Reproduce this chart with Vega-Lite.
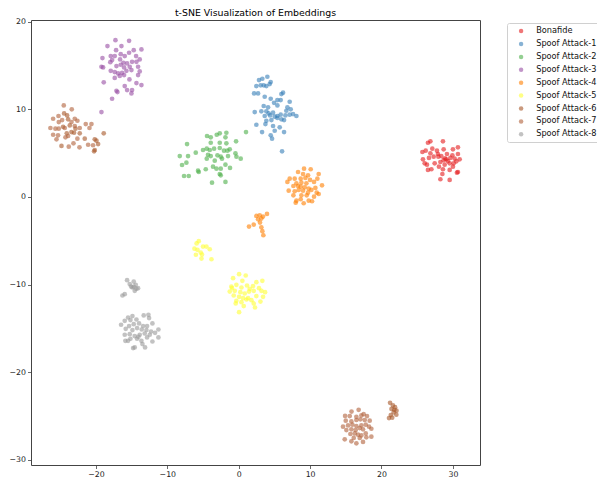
{
  "$schema": "https://vega.github.io/schema/vega-lite/v6.json",
  "width": 449,
  "height": 445,
  "autosize": {"type": "none"},
  "padding": {"left": 31, "top": 20, "right": 117, "bottom": 19},
  "title": {"text": "t-SNE Visualization of Embeddings", "fontSize": 9.4, "font": "DejaVu Sans", "fontWeight": "normal", "color": "#000000", "offset": 2, "dy": 3, "anchor": "middle"},
  "config": {
    "view": {"stroke": "#444444", "strokeWidth": 1},
    "font": "DejaVu Sans",
    "axis": {"grid": false, "domain": false, "tickColor": "#444444", "tickSize": 3.5, "tickWidth": 0.8, "labelFont": "DejaVu Sans", "labelFontSize": 7.8, "labelColor": "#222222", "labelPadding": 2, "title": null}
  },
  "datasets": {
    "pts": [
      {"x":26.51,"y":6.19,"label":"Bonafide"},{"x":26.85,"y":6.35,"label":"Bonafide"},{"x":28.61,"y":6.35,"label":"Bonafide"},{"x":25.73,"y":5.13,"label":"Bonafide"},{"x":26.19,"y":5.28,"label":"Bonafide"},{"x":27.12,"y":5.51,"label":"Bonafide"},{"x":27.77,"y":5.28,"label":"Bonafide"},{"x":28.71,"y":5.44,"label":"Bonafide"},{"x":30.01,"y":5.44,"label":"Bonafide"},{"x":30.71,"y":5.66,"label":"Bonafide"},{"x":27.91,"y":4.9,"label":"Bonafide"},{"x":28.38,"y":4.67,"label":"Bonafide"},{"x":29.17,"y":4.9,"label":"Bonafide"},{"x":29.93,"y":4.75,"label":"Bonafide"},{"x":30.71,"y":4.9,"label":"Bonafide"},{"x":25.81,"y":4.3,"label":"Bonafide"},{"x":26.65,"y":4.45,"label":"Bonafide"},{"x":27.31,"y":4.6,"label":"Bonafide"},{"x":27.97,"y":4.6,"label":"Bonafide"},{"x":29.09,"y":4.3,"label":"Bonafide"},{"x":29.65,"y":4.45,"label":"Bonafide"},{"x":30.25,"y":4.37,"label":"Bonafide"},{"x":30.95,"y":4.3,"label":"Bonafide"},{"x":26.05,"y":3.84,"label":"Bonafide"},{"x":26.37,"y":3.68,"label":"Bonafide"},{"x":27.45,"y":3.84,"label":"Bonafide"},{"x":28.25,"y":3.99,"label":"Bonafide"},{"x":28.85,"y":3.68,"label":"Bonafide"},{"x":29.55,"y":3.84,"label":"Bonafide"},{"x":30.11,"y":3.84,"label":"Bonafide"},{"x":30.49,"y":4.07,"label":"Bonafide"},{"x":26.51,"y":3.08,"label":"Bonafide"},{"x":26.99,"y":3.16,"label":"Bonafide"},{"x":28.05,"y":3.46,"label":"Bonafide"},{"x":28.61,"y":3.16,"label":"Bonafide"},{"x":29.55,"y":3.08,"label":"Bonafide"},{"x":30.71,"y":2.85,"label":"Bonafide"},{"x":28.53,"y":2.62,"label":"Bonafide"},{"x":28.25,"y":2.02,"label":"Bonafide"},{"x":29.55,"y":1.94,"label":"Bonafide"},{"x":26.85,"y":4.98,"label":"Bonafide"},{"x":30.01,"y":3.46,"label":"Bonafide"},{"x":30.57,"y":2.77,"label":"Bonafide"},{"x":28.7,"y":4.2,"label":"Bonafide"},{"x":29.3,"y":4.1,"label":"Bonafide"},{"x":28.9,"y":4.4,"label":"Bonafide"},

      {"x":2.84,"y":13.34,"label":"Spoof Attack-1"},{"x":3.31,"y":13.49,"label":"Spoof Attack-1"},{"x":4.01,"y":13.72,"label":"Spoof Attack-1"},{"x":4.48,"y":13.11,"label":"Spoof Attack-1"},{"x":4.34,"y":12.88,"label":"Spoof Attack-1"},{"x":2.47,"y":12.66,"label":"Spoof Attack-1"},{"x":3.08,"y":12.74,"label":"Spoof Attack-1"},{"x":3.5,"y":12.74,"label":"Spoof Attack-1"},{"x":3.87,"y":12.66,"label":"Spoof Attack-1"},{"x":2.15,"y":11.82,"label":"Spoof Attack-1"},{"x":2.71,"y":11.82,"label":"Spoof Attack-1"},{"x":6.21,"y":11.9,"label":"Spoof Attack-1"},{"x":5.98,"y":11.74,"label":"Spoof Attack-1"},{"x":3.64,"y":11.44,"label":"Spoof Attack-1"},{"x":4.48,"y":11.21,"label":"Spoof Attack-1"},{"x":5.42,"y":11.06,"label":"Spoof Attack-1"},{"x":5.88,"y":11.06,"label":"Spoof Attack-1"},{"x":4.95,"y":10.75,"label":"Spoof Attack-1"},{"x":7.14,"y":10.87,"label":"Spoof Attack-1"},{"x":3.5,"y":10.38,"label":"Spoof Attack-1"},{"x":4.11,"y":10.23,"label":"Spoof Attack-1"},{"x":5.42,"y":10.45,"label":"Spoof Attack-1"},{"x":6.82,"y":10.23,"label":"Spoof Attack-1"},{"x":7.28,"y":10.0,"label":"Spoof Attack-1"},{"x":3.17,"y":9.77,"label":"Spoof Attack-1"},{"x":3.87,"y":9.77,"label":"Spoof Attack-1"},{"x":4.2,"y":9.54,"label":"Spoof Attack-1"},{"x":4.81,"y":9.62,"label":"Spoof Attack-1"},{"x":6.67,"y":9.84,"label":"Spoof Attack-1"},{"x":2.24,"y":9.69,"label":"Spoof Attack-1"},{"x":3.64,"y":9.24,"label":"Spoof Attack-1"},{"x":4.39,"y":9.31,"label":"Spoof Attack-1"},{"x":5.04,"y":9.16,"label":"Spoof Attack-1"},{"x":5.42,"y":9.24,"label":"Spoof Attack-1"},{"x":5.88,"y":9.39,"label":"Spoof Attack-1"},{"x":6.54,"y":9.31,"label":"Spoof Attack-1"},{"x":7.61,"y":9.46,"label":"Spoof Attack-1"},{"x":8.08,"y":9.24,"label":"Spoof Attack-1"},{"x":7.14,"y":9.39,"label":"Spoof Attack-1"},{"x":6.35,"y":8.78,"label":"Spoof Attack-1"},{"x":3.87,"y":8.7,"label":"Spoof Attack-1"},{"x":4.58,"y":8.78,"label":"Spoof Attack-1"},{"x":5.42,"y":9.01,"label":"Spoof Attack-1"},{"x":5.98,"y":8.86,"label":"Spoof Attack-1"},{"x":2.47,"y":8.24,"label":"Spoof Attack-1"},{"x":3.74,"y":8.32,"label":"Spoof Attack-1"},{"x":4.81,"y":8.1,"label":"Spoof Attack-1"},{"x":5.74,"y":7.95,"label":"Spoof Attack-1"},{"x":5.04,"y":7.56,"label":"Spoof Attack-1"},{"x":6.35,"y":7.41,"label":"Spoof Attack-1"},{"x":3.27,"y":7.41,"label":"Spoof Attack-1"},{"x":4.48,"y":7.03,"label":"Spoof Attack-1"},{"x":4.67,"y":6.65,"label":"Spoof Attack-1"},{"x":6.07,"y":5.21,"label":"Spoof Attack-1"},

      {"x":-4.44,"y":6.96,"label":"Spoof Attack-2"},{"x":-3.92,"y":6.81,"label":"Spoof Attack-2"},{"x":-3.08,"y":7.1,"label":"Spoof Attack-2"},{"x":-2.66,"y":7.26,"label":"Spoof Attack-2"},{"x":-1.73,"y":7.33,"label":"Spoof Attack-2"},{"x":1.02,"y":7.41,"label":"Spoof Attack-2"},{"x":-1.86,"y":6.81,"label":"Spoof Attack-2"},{"x":-3.92,"y":6.19,"label":"Spoof Attack-2"},{"x":-2.66,"y":6.19,"label":"Spoof Attack-2"},{"x":-1.73,"y":6.12,"label":"Spoof Attack-2"},{"x":-0.37,"y":6.35,"label":"Spoof Attack-2"},{"x":-5.0,"y":5.36,"label":"Spoof Attack-2"},{"x":-4.48,"y":5.51,"label":"Spoof Attack-2"},{"x":-4.06,"y":5.36,"label":"Spoof Attack-2"},{"x":-3.45,"y":5.51,"label":"Spoof Attack-2"},{"x":-2.66,"y":5.59,"label":"Spoof Attack-2"},{"x":-2.06,"y":5.28,"label":"Spoof Attack-2"},{"x":-1.59,"y":5.28,"label":"Spoof Attack-2"},{"x":-1.26,"y":5.44,"label":"Spoof Attack-2"},{"x":-6.02,"y":5.05,"label":"Spoof Attack-2"},{"x":-4.3,"y":4.82,"label":"Spoof Attack-2"},{"x":-3.92,"y":4.67,"label":"Spoof Attack-2"},{"x":-2.98,"y":4.75,"label":"Spoof Attack-2"},{"x":-2.52,"y":4.6,"label":"Spoof Attack-2"},{"x":-1.5,"y":4.67,"label":"Spoof Attack-2"},{"x":-0.46,"y":4.98,"label":"Spoof Attack-2"},{"x":-0.32,"y":4.6,"label":"Spoof Attack-2"},{"x":0.28,"y":4.37,"label":"Spoof Attack-2"},{"x":-4.48,"y":4.37,"label":"Spoof Attack-2"},{"x":-3.36,"y":4.14,"label":"Spoof Attack-2"},{"x":-2.34,"y":4.37,"label":"Spoof Attack-2"},{"x":-1.86,"y":3.68,"label":"Spoof Attack-2"},{"x":-5.7,"y":3.0,"label":"Spoof Attack-2"},{"x":-5.6,"y":2.85,"label":"Spoof Attack-2"},{"x":-4.62,"y":3.16,"label":"Spoof Attack-2"},{"x":-3.6,"y":3.46,"label":"Spoof Attack-2"},{"x":-3.12,"y":3.23,"label":"Spoof Attack-2"},{"x":-2.52,"y":3.23,"label":"Spoof Attack-2"},{"x":-1.22,"y":3.31,"label":"Spoof Attack-2"},{"x":-2.66,"y":2.62,"label":"Spoof Attack-2"},{"x":-2.52,"y":2.47,"label":"Spoof Attack-2"},{"x":-3.74,"y":1.63,"label":"Spoof Attack-2"},{"x":-1.86,"y":1.71,"label":"Spoof Attack-2"},{"x":-7.24,"y":6.04,"label":"Spoof Attack-2"},{"x":-8.26,"y":4.67,"label":"Spoof Attack-2"},{"x":-7.1,"y":4.67,"label":"Spoof Attack-2"},{"x":-7.94,"y":3.65,"label":"Spoof Attack-2"},{"x":-7.33,"y":3.91,"label":"Spoof Attack-2"},{"x":-7.66,"y":2.39,"label":"Spoof Attack-2"},{"x":-7.0,"y":2.39,"label":"Spoof Attack-2"},

      {"x":-17.27,"y":17.9,"label":"Spoof Attack-3"},{"x":-15.36,"y":17.82,"label":"Spoof Attack-3"},{"x":-18.39,"y":17.22,"label":"Spoof Attack-3"},{"x":-16.43,"y":17.22,"label":"Spoof Attack-3"},{"x":-17.18,"y":16.76,"label":"Spoof Attack-3"},{"x":-14.71,"y":16.76,"label":"Spoof Attack-3"},{"x":-13.63,"y":16.84,"label":"Spoof Attack-3"},{"x":-17.93,"y":16.08,"label":"Spoof Attack-3"},{"x":-17.37,"y":16.08,"label":"Spoof Attack-3"},{"x":-16.53,"y":16.3,"label":"Spoof Attack-3"},{"x":-15.97,"y":16.08,"label":"Spoof Attack-3"},{"x":-15.36,"y":16.46,"label":"Spoof Attack-3"},{"x":-14.38,"y":16.08,"label":"Spoof Attack-3"},{"x":-19.09,"y":15.85,"label":"Spoof Attack-3"},{"x":-17.99,"y":15.39,"label":"Spoof Attack-3"},{"x":-17.74,"y":15.62,"label":"Spoof Attack-3"},{"x":-16.62,"y":15.7,"label":"Spoof Attack-3"},{"x":-16.15,"y":15.32,"label":"Spoof Attack-3"},{"x":-15.64,"y":15.24,"label":"Spoof Attack-3"},{"x":-14.94,"y":15.43,"label":"Spoof Attack-3"},{"x":-13.87,"y":15.7,"label":"Spoof Attack-3"},{"x":-14.33,"y":15.43,"label":"Spoof Attack-3"},{"x":-19.23,"y":14.86,"label":"Spoof Attack-3"},{"x":-19.0,"y":14.79,"label":"Spoof Attack-3"},{"x":-17.13,"y":14.94,"label":"Spoof Attack-3"},{"x":-16.53,"y":15.09,"label":"Spoof Attack-3"},{"x":-16.06,"y":14.79,"label":"Spoof Attack-3"},{"x":-15.27,"y":14.86,"label":"Spoof Attack-3"},{"x":-14.1,"y":14.86,"label":"Spoof Attack-3"},{"x":-17.93,"y":14.4,"label":"Spoof Attack-3"},{"x":-17.37,"y":14.25,"label":"Spoof Attack-3"},{"x":-16.9,"y":14.1,"label":"Spoof Attack-3"},{"x":-16.34,"y":14.17,"label":"Spoof Attack-3"},{"x":-15.73,"y":14.4,"label":"Spoof Attack-3"},{"x":-15.03,"y":14.48,"label":"Spoof Attack-3"},{"x":-13.87,"y":14.33,"label":"Spoof Attack-3"},{"x":-17.37,"y":13.59,"label":"Spoof Attack-3"},{"x":-16.67,"y":13.82,"label":"Spoof Attack-3"},{"x":-16.06,"y":13.91,"label":"Spoof Attack-3"},{"x":-15.31,"y":13.42,"label":"Spoof Attack-3"},{"x":-14.1,"y":13.91,"label":"Spoof Attack-3"},{"x":-18.91,"y":13.08,"label":"Spoof Attack-3"},{"x":-15.97,"y":12.66,"label":"Spoof Attack-3"},{"x":-14.33,"y":13.0,"label":"Spoof Attack-3"},{"x":-13.63,"y":12.77,"label":"Spoof Attack-3"},{"x":-17.13,"y":12.12,"label":"Spoof Attack-3"},{"x":-16.99,"y":11.97,"label":"Spoof Attack-3"},{"x":-15.64,"y":12.2,"label":"Spoof Attack-3"},{"x":-14.94,"y":12.2,"label":"Spoof Attack-3"},{"x":-15.03,"y":11.82,"label":"Spoof Attack-3"},{"x":-17.74,"y":11.21,"label":"Spoof Attack-3"},{"x":-19.23,"y":9.69,"label":"Spoof Attack-3"},

      {"x":9.15,"y":3.23,"label":"Spoof Attack-4"},{"x":10.08,"y":3.16,"label":"Spoof Attack-4"},{"x":8.31,"y":2.85,"label":"Spoof Attack-4"},{"x":9.01,"y":2.62,"label":"Spoof Attack-4"},{"x":9.71,"y":2.47,"label":"Spoof Attack-4"},{"x":11.2,"y":2.62,"label":"Spoof Attack-4"},{"x":7.14,"y":2.09,"label":"Spoof Attack-4"},{"x":7.84,"y":2.09,"label":"Spoof Attack-4"},{"x":8.68,"y":2.09,"label":"Spoof Attack-4"},{"x":9.34,"y":2.17,"label":"Spoof Attack-4"},{"x":9.99,"y":1.94,"label":"Spoof Attack-4"},{"x":11.02,"y":2.09,"label":"Spoof Attack-4"},{"x":6.82,"y":1.71,"label":"Spoof Attack-4"},{"x":8.08,"y":1.56,"label":"Spoof Attack-4"},{"x":8.78,"y":1.63,"label":"Spoof Attack-4"},{"x":9.48,"y":1.56,"label":"Spoof Attack-4"},{"x":10.55,"y":1.71,"label":"Spoof Attack-4"},{"x":11.67,"y":1.33,"label":"Spoof Attack-4"},{"x":7.66,"y":1.25,"label":"Spoof Attack-4"},{"x":8.68,"y":1.17,"label":"Spoof Attack-4"},{"x":9.24,"y":1.1,"label":"Spoof Attack-4"},{"x":9.8,"y":0.95,"label":"Spoof Attack-4"},{"x":10.74,"y":1.03,"label":"Spoof Attack-4"},{"x":7.0,"y":0.72,"label":"Spoof Attack-4"},{"x":7.84,"y":0.65,"label":"Spoof Attack-4"},{"x":8.4,"y":0.8,"label":"Spoof Attack-4"},{"x":9.01,"y":0.72,"label":"Spoof Attack-4"},{"x":9.71,"y":0.49,"label":"Spoof Attack-4"},{"x":10.18,"y":0.8,"label":"Spoof Attack-4"},{"x":11.2,"y":0.34,"label":"Spoof Attack-4"},{"x":7.66,"y":0.19,"label":"Spoof Attack-4"},{"x":8.78,"y":0.19,"label":"Spoof Attack-4"},{"x":9.52,"y":0.19,"label":"Spoof Attack-4"},{"x":10.55,"y":0.03,"label":"Spoof Attack-4"},{"x":8.08,"y":-0.42,"label":"Spoof Attack-4"},{"x":8.68,"y":-0.26,"label":"Spoof Attack-4"},{"x":9.1,"y":-0.72,"label":"Spoof Attack-4"},{"x":9.8,"y":-0.42,"label":"Spoof Attack-4"},{"x":10.27,"y":-0.49,"label":"Spoof Attack-4"},{"x":7.98,"y":-0.65,"label":"Spoof Attack-4"},{"x":10.92,"y":0.49,"label":"Spoof Attack-4"},{"x":8.31,"y":1.25,"label":"Spoof Attack-4"},
      {"x":2.47,"y":-2.17,"label":"Spoof Attack-4"},{"x":2.94,"y":-2.09,"label":"Spoof Attack-4"},{"x":3.4,"y":-2.24,"label":"Spoof Attack-4"},{"x":3.96,"y":-1.94,"label":"Spoof Attack-4"},{"x":2.71,"y":-2.55,"label":"Spoof Attack-4"},{"x":3.17,"y":-2.47,"label":"Spoof Attack-4"},{"x":2.98,"y":-2.93,"label":"Spoof Attack-4"},{"x":1.44,"y":-3.38,"label":"Spoof Attack-4"},{"x":2.1,"y":-3.15,"label":"Spoof Attack-4"},{"x":3.17,"y":-3.46,"label":"Spoof Attack-4"},{"x":3.31,"y":-3.91,"label":"Spoof Attack-4"},{"x":3.45,"y":-4.37,"label":"Spoof Attack-4"},

      {"x":-5.6,"y":-5.05,"label":"Spoof Attack-5"},{"x":-5.0,"y":-5.67,"label":"Spoof Attack-5"},{"x":-4.53,"y":-5.67,"label":"Spoof Attack-5"},{"x":-4.06,"y":-5.97,"label":"Spoof Attack-5"},{"x":-5.78,"y":-6.04,"label":"Spoof Attack-5"},{"x":-5.32,"y":-6.35,"label":"Spoof Attack-5"},{"x":-5.22,"y":-7.03,"label":"Spoof Attack-5"},{"x":-3.82,"y":-7.11,"label":"Spoof Attack-5"},{"x":-5.14,"y":-6.58,"label":"Spoof Attack-5"},{"x":-6.2,"y":-5.9,"label":"Spoof Attack-5"},{"x":-6.0,"y":-6.6,"label":"Spoof Attack-5"},{"x":-5.9,"y":-5.3,"label":"Spoof Attack-5"},
      {"x":0.05,"y":-8.82,"label":"Spoof Attack-5"},{"x":0.98,"y":-8.97,"label":"Spoof Attack-5"},{"x":-0.79,"y":-9.27,"label":"Spoof Attack-5"},{"x":0.51,"y":-9.58,"label":"Spoof Attack-5"},{"x":2.47,"y":-9.73,"label":"Spoof Attack-5"},{"x":3.31,"y":-9.58,"label":"Spoof Attack-5"},{"x":-1.03,"y":-10.23,"label":"Spoof Attack-5"},{"x":-0.33,"y":-10.03,"label":"Spoof Attack-5"},{"x":0.38,"y":-10.34,"label":"Spoof Attack-5"},{"x":1.16,"y":-10.11,"label":"Spoof Attack-5"},{"x":2.0,"y":-10.18,"label":"Spoof Attack-5"},{"x":1.54,"y":-10.49,"label":"Spoof Attack-5"},{"x":2.84,"y":-10.41,"label":"Spoof Attack-5"},{"x":-1.26,"y":-10.8,"label":"Spoof Attack-5"},{"x":-0.56,"y":-10.72,"label":"Spoof Attack-5"},{"x":0.23,"y":-10.87,"label":"Spoof Attack-5"},{"x":0.84,"y":-11.02,"label":"Spoof Attack-5"},{"x":1.44,"y":-10.8,"label":"Spoof Attack-5"},{"x":2.1,"y":-10.72,"label":"Spoof Attack-5"},{"x":3.18,"y":-10.72,"label":"Spoof Attack-5"},{"x":3.69,"y":-10.87,"label":"Spoof Attack-5"},{"x":-0.7,"y":-11.25,"label":"Spoof Attack-5"},{"x":0.05,"y":-11.4,"label":"Spoof Attack-5"},{"x":0.61,"y":-11.55,"label":"Spoof Attack-5"},{"x":1.31,"y":-11.55,"label":"Spoof Attack-5"},{"x":2.47,"y":-11.32,"label":"Spoof Attack-5"},{"x":3.41,"y":-11.4,"label":"Spoof Attack-5"},{"x":-0.33,"y":-11.86,"label":"Spoof Attack-5"},{"x":0.38,"y":-12.01,"label":"Spoof Attack-5"},{"x":1.08,"y":-11.71,"label":"Spoof Attack-5"},{"x":1.78,"y":-11.78,"label":"Spoof Attack-5"},{"x":3.04,"y":-11.94,"label":"Spoof Attack-5"},{"x":-0.42,"y":-12.16,"label":"Spoof Attack-5"},{"x":0.7,"y":-12.46,"label":"Spoof Attack-5"},{"x":2.1,"y":-12.16,"label":"Spoof Attack-5"},{"x":2.28,"y":-12.62,"label":"Spoof Attack-5"},{"x":0.05,"y":-13.15,"label":"Spoof Attack-5"},{"x":-0.95,"y":-10.4,"label":"Spoof Attack-5"},

      {"x":-24.6,"y":8.01,"label":"Spoof Attack-6"},{"x":-24.04,"y":9.31,"label":"Spoof Attack-6"},{"x":-23.67,"y":8.17,"label":"Spoof Attack-6"},{"x":-23.43,"y":7.41,"label":"Spoof Attack-6"},{"x":-24.09,"y":7.26,"label":"Spoof Attack-6"},{"x":-21.57,"y":6.65,"label":"Spoof Attack-6"},{"x":-20.17,"y":6.58,"label":"Spoof Attack-6"},{"x":-19.93,"y":6.42,"label":"Spoof Attack-6"},{"x":-19.7,"y":6.04,"label":"Spoof Attack-6"},{"x":-20.17,"y":5.36,"label":"Spoof Attack-6"},{"x":-20.26,"y":5.21,"label":"Spoof Attack-6"},{"x":-18.91,"y":7.26,"label":"Spoof Attack-6"},{"x":-24.83,"y":5.82,"label":"Spoof Attack-6"},{"x":-22.27,"y":7.26,"label":"Spoof Attack-6"},{"x":-23.07,"y":7.33,"label":"Spoof Attack-6"},{"x":-24.46,"y":9.54,"label":"Spoof Attack-6"},{"x":-23.9,"y":8.86,"label":"Spoof Attack-6"},{"x":-22.87,"y":7.79,"label":"Spoof Attack-6"},
      {"x":21.2,"y":-23.5,"label":"Spoof Attack-6"},{"x":21.6,"y":-23.8,"label":"Spoof Attack-6"},{"x":21.9,"y":-24.0,"label":"Spoof Attack-6"},{"x":21.4,"y":-24.2,"label":"Spoof Attack-6"},{"x":22.1,"y":-24.4,"label":"Spoof Attack-6"},{"x":21.7,"y":-24.6,"label":"Spoof Attack-6"},{"x":21.3,"y":-24.9,"label":"Spoof Attack-6"},{"x":21.05,"y":-25.24,"label":"Spoof Attack-6"},{"x":22.08,"y":-24.86,"label":"Spoof Attack-6"},{"x":21.5,"y":-25.2,"label":"Spoof Attack-6"},{"x":21.8,"y":-24.3,"label":"Spoof Attack-6"},

      {"x":-24.51,"y":10.45,"label":"Spoof Attack-7"},{"x":-23.39,"y":10.0,"label":"Spoof Attack-7"},{"x":-26.0,"y":8.93,"label":"Spoof Attack-7"},{"x":-25.25,"y":9.24,"label":"Spoof Attack-7"},{"x":-22.97,"y":8.93,"label":"Spoof Attack-7"},{"x":-22.6,"y":8.7,"label":"Spoof Attack-7"},{"x":-24.74,"y":8.78,"label":"Spoof Attack-7"},{"x":-25.21,"y":8.55,"label":"Spoof Attack-7"},{"x":-23.43,"y":8.55,"label":"Spoof Attack-7"},{"x":-26.38,"y":7.87,"label":"Spoof Attack-7"},{"x":-25.68,"y":7.79,"label":"Spoof Attack-7"},{"x":-25.21,"y":7.79,"label":"Spoof Attack-7"},{"x":-24.37,"y":7.87,"label":"Spoof Attack-7"},{"x":-22.97,"y":8.1,"label":"Spoof Attack-7"},{"x":-22.27,"y":7.87,"label":"Spoof Attack-7"},{"x":-21.43,"y":8.32,"label":"Spoof Attack-7"},{"x":-20.63,"y":8.32,"label":"Spoof Attack-7"},{"x":-20.91,"y":7.87,"label":"Spoof Attack-7"},{"x":-26.0,"y":7.1,"label":"Spoof Attack-7"},{"x":-25.31,"y":7.03,"label":"Spoof Attack-7"},{"x":-25.53,"y":6.58,"label":"Spoof Attack-7"},{"x":-24.27,"y":6.81,"label":"Spoof Attack-7"},{"x":-23.9,"y":6.96,"label":"Spoof Attack-7"},{"x":-22.6,"y":6.65,"label":"Spoof Attack-7"},{"x":-23.81,"y":5.74,"label":"Spoof Attack-7"},{"x":-23.15,"y":6.12,"label":"Spoof Attack-7"},{"x":-22.31,"y":5.66,"label":"Spoof Attack-7"},{"x":-21.1,"y":5.96,"label":"Spoof Attack-7"},{"x":-20.41,"y":5.9,"label":"Spoof Attack-7"},
      {"x":15.55,"y":-25.01,"label":"Spoof Attack-7"},{"x":16.48,"y":-25.09,"label":"Spoof Attack-7"},{"x":17.18,"y":-24.94,"label":"Spoof Attack-7"},{"x":17.97,"y":-25.01,"label":"Spoof Attack-7"},{"x":14.99,"y":-25.54,"label":"Spoof Attack-7"},{"x":15.78,"y":-25.62,"label":"Spoof Attack-7"},{"x":16.48,"y":-25.46,"label":"Spoof Attack-7"},{"x":17.04,"y":-25.39,"label":"Spoof Attack-7"},{"x":17.65,"y":-25.46,"label":"Spoof Attack-7"},{"x":18.35,"y":-25.54,"label":"Spoof Attack-7"},{"x":14.61,"y":-26.23,"label":"Spoof Attack-7"},{"x":15.31,"y":-26.08,"label":"Spoof Attack-7"},{"x":15.92,"y":-26.0,"label":"Spoof Attack-7"},{"x":16.48,"y":-26.15,"label":"Spoof Attack-7"},{"x":17.18,"y":-26.08,"label":"Spoof Attack-7"},{"x":17.79,"y":-26.0,"label":"Spoof Attack-7"},{"x":18.25,"y":-26.23,"label":"Spoof Attack-7"},{"x":18.58,"y":-26.46,"label":"Spoof Attack-7"},{"x":15.08,"y":-26.61,"label":"Spoof Attack-7"},{"x":15.78,"y":-26.53,"label":"Spoof Attack-7"},{"x":16.39,"y":-26.61,"label":"Spoof Attack-7"},{"x":16.95,"y":-26.38,"label":"Spoof Attack-7"},{"x":17.41,"y":-26.53,"label":"Spoof Attack-7"},{"x":15.64,"y":-27.06,"label":"Spoof Attack-7"},{"x":16.25,"y":-26.99,"label":"Spoof Attack-7"},{"x":16.71,"y":-27.14,"label":"Spoof Attack-7"},{"x":17.18,"y":-27.22,"label":"Spoof Attack-7"},{"x":17.79,"y":-26.99,"label":"Spoof Attack-7"},{"x":18.58,"y":-27.37,"label":"Spoof Attack-7"},{"x":17.88,"y":-27.44,"label":"Spoof Attack-7"},{"x":14.85,"y":-27.67,"label":"Spoof Attack-7"},{"x":15.78,"y":-27.9,"label":"Spoof Attack-7"},{"x":16.48,"y":-28.13,"label":"Spoof Attack-7"},{"x":17.41,"y":-27.97,"label":"Spoof Attack-7"},{"x":16.95,"y":-27.51,"label":"Spoof Attack-7"},{"x":16.11,"y":-27.51,"label":"Spoof Attack-7"},{"x":15.8,"y":-24.5,"label":"Spoof Attack-7"},{"x":16.8,"y":-24.3,"label":"Spoof Attack-7"},{"x":17.5,"y":-24.8,"label":"Spoof Attack-7"},{"x":14.9,"y":-25.0,"label":"Spoof Attack-7"},

      {"x":-15.64,"y":-9.5,"label":"Spoof Attack-8"},{"x":-15.27,"y":-9.95,"label":"Spoof Attack-8"},{"x":-14.71,"y":-9.66,"label":"Spoof Attack-8"},{"x":-14.43,"y":-10.03,"label":"Spoof Attack-8"},{"x":-14.9,"y":-10.34,"label":"Spoof Attack-8"},{"x":-14.33,"y":-10.49,"label":"Spoof Attack-8"},{"x":-14.1,"y":-10.41,"label":"Spoof Attack-8"},{"x":-14.57,"y":-10.72,"label":"Spoof Attack-8"},{"x":-15.08,"y":-10.23,"label":"Spoof Attack-8"},{"x":-15.97,"y":-11.1,"label":"Spoof Attack-8"},{"x":-16.29,"y":-11.25,"label":"Spoof Attack-8"},{"x":-14.71,"y":-10.26,"label":"Spoof Attack-8"},
      {"x":-15.5,"y":-13.76,"label":"Spoof Attack-8"},{"x":-14.89,"y":-13.6,"label":"Spoof Attack-8"},{"x":-13.31,"y":-13.53,"label":"Spoof Attack-8"},{"x":-12.65,"y":-13.45,"label":"Spoof Attack-8"},{"x":-12.56,"y":-13.83,"label":"Spoof Attack-8"},{"x":-15.97,"y":-14.14,"label":"Spoof Attack-8"},{"x":-15.17,"y":-14.06,"label":"Spoof Attack-8"},{"x":-14.33,"y":-13.99,"label":"Spoof Attack-8"},{"x":-16.48,"y":-14.59,"label":"Spoof Attack-8"},{"x":-15.36,"y":-14.74,"label":"Spoof Attack-8"},{"x":-14.71,"y":-14.52,"label":"Spoof Attack-8"},{"x":-13.96,"y":-14.44,"label":"Spoof Attack-8"},{"x":-13.4,"y":-14.74,"label":"Spoof Attack-8"},{"x":-12.84,"y":-14.74,"label":"Spoof Attack-8"},{"x":-12.09,"y":-14.44,"label":"Spoof Attack-8"},{"x":-15.83,"y":-15.05,"label":"Spoof Attack-8"},{"x":-14.89,"y":-15.2,"label":"Spoof Attack-8"},{"x":-14.24,"y":-14.97,"label":"Spoof Attack-8"},{"x":-13.59,"y":-15.13,"label":"Spoof Attack-8"},{"x":-12.93,"y":-15.2,"label":"Spoof Attack-8"},{"x":-12.28,"y":-15.36,"label":"Spoof Attack-8"},{"x":-11.25,"y":-15.13,"label":"Spoof Attack-8"},{"x":-15.97,"y":-15.73,"label":"Spoof Attack-8"},{"x":-15.27,"y":-15.66,"label":"Spoof Attack-8"},{"x":-14.57,"y":-15.88,"label":"Spoof Attack-8"},{"x":-13.87,"y":-15.73,"label":"Spoof Attack-8"},{"x":-13.17,"y":-15.59,"label":"Spoof Attack-8"},{"x":-12.46,"y":-15.73,"label":"Spoof Attack-8"},{"x":-11.72,"y":-15.51,"label":"Spoof Attack-8"},{"x":-15.5,"y":-16.42,"label":"Spoof Attack-8"},{"x":-14.24,"y":-16.19,"label":"Spoof Attack-8"},{"x":-13.63,"y":-16.42,"label":"Spoof Attack-8"},{"x":-12.84,"y":-16.04,"label":"Spoof Attack-8"},{"x":-12.09,"y":-16.5,"label":"Spoof Attack-8"},{"x":-11.25,"y":-16.04,"label":"Spoof Attack-8"},{"x":-15.88,"y":-16.42,"label":"Spoof Attack-8"},{"x":-14.57,"y":-17.18,"label":"Spoof Attack-8"},{"x":-13.49,"y":-16.8,"label":"Spoof Attack-8"},{"x":-13.12,"y":-17.18,"label":"Spoof Attack-8"},{"x":-14.8,"y":-17.25,"label":"Spoof Attack-8"},{"x":-14.05,"y":-15.96,"label":"Spoof Attack-8"},{"x":-15.17,"y":-16.19,"label":"Spoof Attack-8"}
    ]
  },
  "data": {"name": "pts"},
  "mark": {"type": "circle", "size": 22, "opacity": 0.6, "stroke": null},
  "encoding": {
    "x": {"field": "x", "type": "quantitative", "scale": {"domain": [-29.1, 33.8], "nice": false, "zero": false}, "axis": {"values": [-20, -10, 0, 10, 20, 30], "labelExpr": "replace(datum.label, '-', '−')"}},
    "y": {"field": "y", "type": "quantitative", "scale": {"domain": [-30.6, 20.2], "nice": false, "zero": false}, "axis": {"values": [-30, -20, -10, 0, 10, 20], "labelExpr": "replace(datum.label, '-', '−')"}},
    "color": {
      "field": "label", "type": "nominal",
      "scale": {
        "domain": ["Bonafide", "Spoof Attack-1", "Spoof Attack-2", "Spoof Attack-3", "Spoof Attack-4", "Spoof Attack-5", "Spoof Attack-6", "Spoof Attack-7", "Spoof Attack-8"],
        "range": ["#e41a1c", "#377eb8", "#4daf4a", "#984ea3", "#ff7f00", "#ffff33", "#a65628", "#b0613a", "#999999"]
      },
      "legend": {
        "title": null, "orient": "none", "legendX": 476, "legendY": 3,
        "labelFont": "DejaVu Sans", "labelFontSize": 8.2, "labelColor": "#111111",
        "symbolType": "circle", "symbolSize": 20, "symbolOpacity": 0.6, "symbolStrokeWidth": 0,
        "symbolOffset": 6, "labelOffset": 11, "rowPadding": 3.9,
        "padding": 4, "strokeColor": "#d0d0d0", "fillColor": "#ffffff", "cornerRadius": 2
      }
    }
  }
}
